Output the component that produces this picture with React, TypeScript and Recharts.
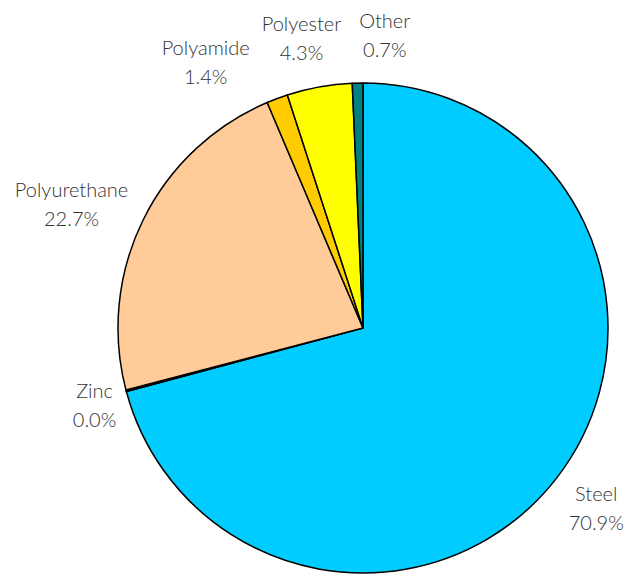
import React from "react";
import { PieChart, Pie, Cell } from "recharts";

const materials = ["Steel", "Zinc", "Polyurethane", "Polyamide", "Polyester", "Other"];
const shares = [70.9, 0.1, 22.7, 1.4, 4.3, 0.7];
const shareLabels = ["70.9%", "0.0%", "22.7%", "1.4%", "4.3%", "0.7%"];
const colors = ["#00CCFF", "#33CCCC", "#FFCC99", "#FFCC00", "#FFFF00", "#008080"];

// label layout: extra radial distance beyond the rim, and angle nudge (deg, clockwise)
const labelGap = [49, 34, 72, 65, 52, 50];
const labelNudge = [0, -1, -3, -10, -1.7, 5.5];

const data = materials.map((name, i) => ({ name, value: shares[i], label: shareLabels[i] }));

const RAD = Math.PI / 180;

const renderLabel = (props: any) => {
  const { cx, cy, midAngle, outerRadius, index } = props;
  const a = (midAngle - labelNudge[index]) * RAD;
  const d = outerRadius + labelGap[index];
  const x = cx + d * Math.cos(a);
  const y = cy - d * Math.sin(a);
  return (
    <text
      x={x}
      y={y}
      textAnchor="middle"
      fill="#333333"
      fontFamily="Lato, 'DejaVu Sans', sans-serif"
      fontWeight={300}
      fontSize={20}
    >
      <tspan x={x} dy={-6}>{data[index].name}</tspan>
      <tspan x={x} dy={29}>{data[index].label}</tspan>
    </text>
  );
};

export default function App() {
  return (
    <PieChart width={624} height={566} margin={{ top: 0, right: 0, bottom: 0, left: 0 }}>
      <Pie
        data={data}
        dataKey="value"
        nameKey="name"
        cx={355}
        cy={320}
        outerRadius={245}
        startAngle={90}
        endAngle={-270}
        stroke="#000000"
        strokeWidth={1.5}
        label={renderLabel}
        labelLine={false}
        isAnimationActive={false}
      >
        {data.map((d, i) => (
          <Cell key={d.name} fill={colors[i]} />
        ))}
      </Pie>
    </PieChart>
  );
}
